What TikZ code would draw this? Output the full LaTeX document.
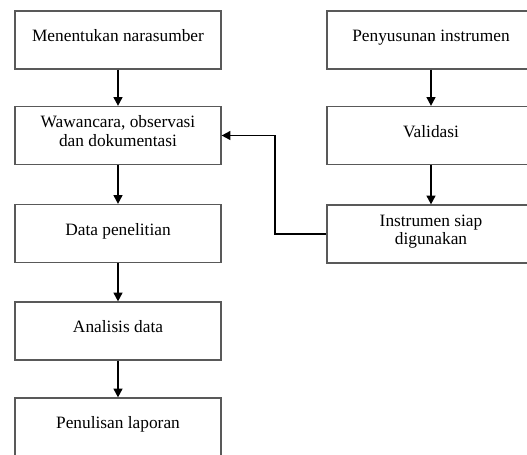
\documentclass[tikz,border=0pt]{standalone}
\usepackage{fontspec}
\setmainfont{Liberation Serif}
\usetikzlibrary{arrows.meta}
\begin{document}
\begin{tikzpicture}[x=0.75pt, y=-0.75pt, line join=miter,
  step box/.style={rectangle, draw=black!65, line width=0.9pt, minimum width=154.5pt, minimum height=43.5pt, align=center, text depth=6.5pt, font=\fontsize{13}{13.8}\selectfont},
  flow/.style={draw=black, line width=1.4pt, -{Triangle[length=6.5pt,width=6.5pt]}}]
\useasboundingbox (0,0) rectangle (527,454);
\clip (0,0) rectangle (527,454);
% left column
\node[step box] (m1) at (118,40) {Menentukan narasumber};
\node[step box] (m2) at (118,135.5) {Wawancara, observasi\\dan dokumentasi};
\node[step box] (m3) at (118,233.5) {Data penelitian};
\node[step box] (m4) at (118,331) {Analisis data};
\node[step box] (m5) at (118,427) {Penulisan laporan};
% right column
\node[step box, minimum width=156pt] (r1) at (431,40) {Penyusunan instrumen};
\node[step box, minimum width=156pt] (r2) at (431,135.5) {Validasi};
\node[step box, minimum width=156pt] (r3) at (431,234) {Instrumen siap\\digunakan};
\coordinate (turn) at (275,0);
\draw[flow] (m1) edge (m2);
\draw[flow] (m2) edge (m3);
\draw[flow] (m3) edge (m4);
\draw[flow] (m4) edge (m5);
\draw[flow] (r1) edge (r2);
\draw[flow] (r2) edge (r3);
\draw[flow] (r3.west) -- (r3.west -| turn) |- (m2.east);
\end{tikzpicture}
\end{document}
